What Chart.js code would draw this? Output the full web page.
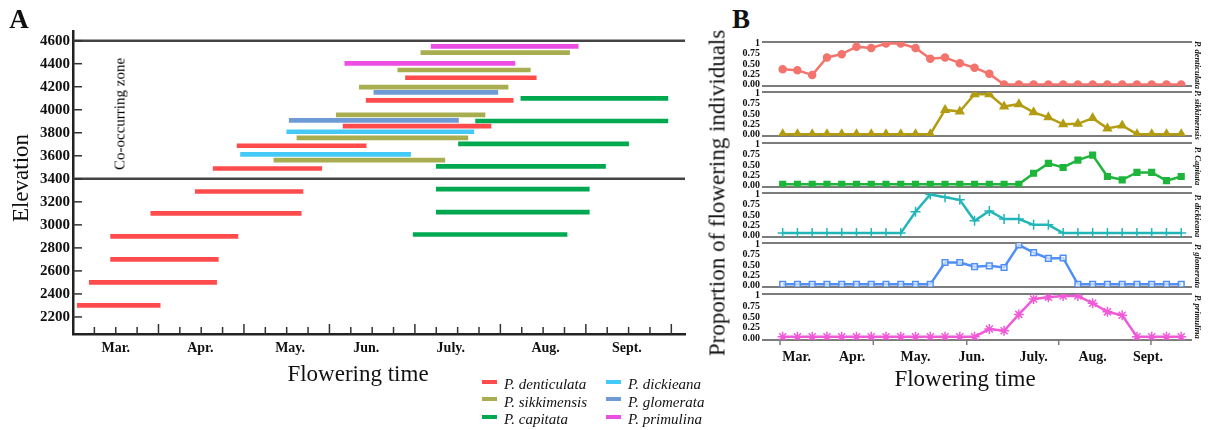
<!DOCTYPE html>
<html>
<head>
<meta charset="utf-8">
<title>Flowering time and elevation</title>
<script src="https://cdn.jsdelivr.net/npm/chart.js"></script>
<style>
  body { margin: 0; background: #fff; }
  #wrap { position: relative; width: 1209px; height: 430px; overflow: hidden;
          font-family: 'Liberation Serif', 'Times New Roman', serif; color: #111; }
  canvas { position: absolute; }
  .txt { position: absolute; white-space: nowrap; line-height: 1; }
  .c { transform: translate(-50%, -50%); }
  .up { transform: translate(-50%, -50%) rotate(-90deg); }
  .down { transform: translate(-50%, -50%) rotate(90deg); }
  .sw { position: absolute; width: 15px; height: 4px; }
  .lg { position: absolute; font-style: italic; font-size: 15px; line-height: 1; white-space: nowrap; }
</style>
</head>
<body>
<div id="wrap">
  <canvas id="chartA" width="700" height="430" style="left:0;top:0"></canvas>
</div>
<script>
// ── Data ─────────────────────────────────────────────────────────
// Panel A: [elevation m, first month, last month]  (3 = 1 Mar, 4 = 1 Apr ...)
const denticulataBars = [[4278, 6.89, 8.42], [4082, 6.43, 8.15], [3858, 6.16, 7.89], [3687, 4.92, 6.43],
  [3490, 4.64, 5.91], [3290, 4.43, 5.69], [3100, 3.91, 5.67], [2900, 3.44, 4.93], [2700, 3.44, 4.70],
  [2500, 3.19, 4.68], [2300, 3.05, 4.02]];
const sikkimensisBars = [[4496, 7.07, 8.81], [4345, 6.80, 8.35], [4197, 6.35, 8.09], [3956, 6.08, 7.82],
  [3756, 5.62, 7.62], [3563, 5.35, 7.35]];
const capitataBars = [[4099, 8.24, 9.96], [3902, 7.71, 9.96], [3704, 7.51, 9.50], [3508, 7.25, 9.23],
  [3310, 7.25, 9.04], [3110, 7.25, 9.04], [2916, 6.98, 8.78]];
const dickieanaBars = [[3809, 5.50, 7.69], [3612, 4.96, 6.95]];
const glomerataBars = [[4151, 6.52, 7.97], [3908, 5.53, 7.51]];
const primulinaBars = [[4551, 7.19, 8.91], [4403, 6.18, 8.17]];
const zoneBounds = [3400, 4600];
const elevTicks = [2200, 2400, 2600, 2800, 3000, 3200, 3400, 3600, 3800, 4000, 4200, 4400, 4600];
const monthNames = ['Mar.', 'Apr.', 'May.', 'Jun.', 'July.', 'Aug.', 'Sept.'];
const monthPosA = [3.5, 4.49, 5.54, 6.43, 7.42, 8.53, 9.48];

// Panel B: proportion of flowering individuals per sampling period
const periodIdx = [0, 1, 2, 3, 4, 5, 6, 7, 8, 9, 10, 11, 12, 13, 14, 15, 16, 17, 18, 19, 20, 21, 22, 23, 24, 25, 26, 27];
const denticulataProp = [0.37, 0.35, 0.23, 0.66, 0.74, 0.92, 0.89, 1.0, 1.0, 0.89, 0.63, 0.66, 0.52, 0.41,
  0.26, 0, 0, 0, 0, 0, 0, 0, 0, 0, 0, 0, 0, 0];
const sikkimensisProp = [0.01, 0.01, 0.01, 0.01, 0.01, 0.01, 0.01, 0.01, 0.01, 0.01, 0.01, 0.60, 0.56, 0.98,
  0.98, 0.68, 0.74, 0.54, 0.42, 0.25, 0.26, 0.40, 0.15, 0.22, 0.01, 0.01, 0.01, 0.01];
const capitataProp = [0.03, 0.03, 0.03, 0.03, 0.03, 0.03, 0.03, 0.03, 0.03, 0.03, 0.03, 0.03, 0.03, 0.03,
  0.03, 0.03, 0.03, 0.30, 0.54, 0.44, 0.62, 0.74, 0.22, 0.14, 0.32, 0.32, 0.12, 0.22];
const dickieanaProp = [0.06, 0.06, 0.06, 0.06, 0.06, 0.06, 0.06, 0.06, 0.06, 0.58, 1.0, 0.93, 0.87, 0.36,
  0.60, 0.40, 0.40, 0.26, 0.26, 0.06, 0.06, 0.06, 0.06, 0.06, 0.06, 0.06, 0.06, 0.06];
const glomerataProp = [0.03, 0.03, 0.03, 0.03, 0.03, 0.03, 0.03, 0.03, 0.03, 0.03, 0.03, 0.56, 0.56, 0.46,
  0.48, 0.44, 0.99, 0.80, 0.66, 0.67, 0.03, 0.03, 0.03, 0.03, 0.03, 0.03, 0.03, 0.03];
const primulinaProp = [0.04, 0.04, 0.04, 0.04, 0.04, 0.04, 0.04, 0.04, 0.04, 0.04, 0.04, 0.04, 0.04, 0.04,
  0.22, 0.18, 0.56, 0.92, 0.96, 0.99, 0.99, 0.82, 0.62, 0.54, 0.04, 0.04, 0.04, 0.04];
const propTicks = [0, 0.25, 0.5, 0.75, 1];
const monthPosB = [0.95, 4.7, 9, 12.8, 17, 21, 24.75];
const tickPosB = [-0.18, 6.14, 12.47, 18.7, 24.95];

const SERIF = "'Liberation Serif', 'Times New Roman', serif";
const wrap = document.getElementById('wrap');

const addText = (txt, x, y, cls, style) => {
  const d = document.createElement('div');
  d.className = 'txt ' + cls;
  d.textContent = txt;
  d.style.left = x + 'px';
  d.style.top = y + 'px';
  d.style.cssText += style;
  wrap.appendChild(d);
};

// ── Panel A ──────────────────────────────────────────────────────
const speciesA = [
  { name: 'P. denticulata', bars: denticulataBars, color: '#ff4b4b' },
  { name: 'P. sikkimensis', bars: sikkimensisBars, color: '#a8ae50' },
  { name: 'P. capitata', bars: capitataBars, color: '#00a84f' },
  { name: 'P. dickieana', bars: dickieanaBars, color: '#45caf8' },
  { name: 'P. glomerata', bars: glomerataBars, color: '#6e9bd6' },
  { name: 'P. primulina', bars: primulinaBars, color: '#ec4ee4' },
];

const frameA = {
  id: 'frameA',
  beforeDatasetsDraw(chart) {
    const { ctx, chartArea: a, scales: { y } } = chart;
    ctx.save();
    ctx.strokeStyle = '#444';
    ctx.lineWidth = 2.5;
    zoneBounds.forEach(v => {
      const py = y.getPixelForValue(v);
      ctx.beginPath(); ctx.moveTo(a.left, py); ctx.lineTo(a.right, py); ctx.stroke();
    });
    ctx.restore();
  },
  afterDraw(chart) {
    const { ctx, chartArea: a, scales: { x, y } } = chart;
    ctx.save();
    ctx.strokeStyle = '#333';
    ctx.lineWidth = 1.5;
    for (let m = 3.25; m <= 10.01; m += 0.25) {
      const px = x.getPixelForValue(m);
      const len = Math.abs(m - Math.round(m)) < 0.01 ? 10 : 7;
      ctx.beginPath(); ctx.moveTo(px, a.bottom); ctx.lineTo(px, a.bottom - len); ctx.stroke();
    }
    elevTicks.forEach(v => {
      const py = y.getPixelForValue(v);
      ctx.beginPath(); ctx.moveTo(a.left, py); ctx.lineTo(a.left + 9, py); ctx.stroke();
    });
    ctx.restore();
  }
};

new Chart(document.getElementById('chartA'), {
  type: 'bar',
  data: {
    datasets: speciesA.map(s => ({
      label: s.name,
      data: s.bars.map(b => ({ y: b[0], x: [b[1], b[2]] })),
      backgroundColor: s.color,
      borderWidth: 0,
      barThickness: 4,
      grouped: false,
    }))
  },
  options: {
    indexAxis: 'y',
    responsive: false,
    animation: false,
    layout: { padding: { top: 31, right: 15, left: 0, bottom: 0 } },
    plugins: { legend: { display: false }, tooltip: { enabled: false } },
    scales: {
      x: {
        type: 'linear', min: 3, max: 10.16,
        grid: { display: false, drawTicks: false },
        border: { color: '#222', width: 2.5 },
        afterBuildTicks: s => { s.ticks = monthPosA.map(v => ({ value: v })); },
        ticks: { autoSkip: false, maxRotation: 0, padding: 6, color: '#111',
                 font: { family: SERIF, size: 14, weight: 'bold' },
                 callback: (v, i) => monthNames[i] },
        afterFit: s => { s.height = 96; }
      },
      y: {
        type: 'linear', min: 2052, max: 4684, offset: false,
        grid: { display: false, drawTicks: false, offset: false },
        border: { color: '#222', width: 2.5 },
        afterBuildTicks: s => { s.ticks = elevTicks.map(v => ({ value: v })); },
        ticks: { autoSkip: false, padding: 3, color: '#111', font: { family: SERIF, size: 15, weight: 'bold' },
                 callback: v => String(v) },
        afterFit: s => { s.width = 73; }
      }
    }
  },
  plugins: [frameA]
});

addText('A', 19, 19, 'c', 'font-weight:bold;font-size:27px;');
addText('Elevation', 20, 178, 'up', 'font-size:23px;');
addText('Flowering time', 358, 373, 'c', 'font-size:23px;');
addText('Co-occurring zone', 119.5, 114, 'up', 'font-size:15px;color:#000;');

// legend
speciesA.forEach((s, i) => {
  const col = Math.floor(i / 3), row = i % 3;
  const sx = col ? 606 : 482, tx = col ? 628 : 504;
  const sw = document.createElement('div');
  sw.className = 'sw';
  sw.style.left = sx + 'px';
  sw.style.top = (379.5 + row * 17.7) + 'px';
  sw.style.background = s.color;
  wrap.appendChild(sw);
  const lg = document.createElement('div');
  lg.className = 'lg';
  lg.textContent = s.name;
  lg.style.left = tx + 'px';
  lg.style.top = (377 + row * 17.7) + 'px';
  wrap.appendChild(lg);
});

// ── Panel B ──────────────────────────────────────────────────────
const panelsB = [
  { name: 'P. denticulata', data: denticulataProp, color: '#f4736d', fill: '#f4736d', style: 'circle', r: 3.5 },
  { name: 'P. sikkimensis', data: sikkimensisProp, color: '#b39c12', fill: '#b39c12', style: 'triangle', r: 4.5 },
  { name: 'P. Capitata', data: capitataProp, color: '#1fb53c', fill: '#1fb53c', style: 'rect', r: 4 },
  { name: 'P. dickieana', data: dickieanaProp, color: '#22b6b8', fill: '#22b6b8', style: 'cross', r: 5 },
  { name: 'P. glomerata', data: glomerataProp, color: '#4f8ef4', fill: 'rgba(255,255,255,0.6)', style: 'rect', r: 4 },
  { name: 'P. primulina', data: primulinaProp, color: '#f05ad8', fill: '#f05ad8', style: 'star', r: 5 },
];

const frameB = {
  id: 'frameB',
  beforeDatasetsDraw(chart) {
    const { ctx, chartArea: a, scales: { x } } = chart;
    ctx.save();
    ctx.strokeStyle = '#7c7c7c';
    ctx.lineWidth = 2;
    [a.top, a.bottom].forEach(py => {
      ctx.beginPath(); ctx.moveTo(a.left, py); ctx.lineTo(a.right, py); ctx.stroke();
    });
    if (chart.options.lastPanel) {
      ctx.lineWidth = 1.5;
      tickPosB.forEach(v => {
        const px = x.getPixelForValue(v);
        ctx.beginPath(); ctx.moveTo(px, a.bottom); ctx.lineTo(px, a.bottom + 5); ctx.stroke();
      });
    }
    ctx.restore();
  }
};

panelsB.forEach((p, i) => {
  const last = i === panelsB.length - 1;
  const areaTop = Math.round(42 + 50.3 * i);
  const cTop = areaTop - 8;
  const cH = last ? 430 - cTop : 60;
  const cv = document.createElement('canvas');
  cv.width = 509; cv.height = cH;
  cv.style.left = '700px'; cv.style.top = cTop + 'px';
  wrap.insertBefore(cv, wrap.children[1]);

  new Chart(cv, {
    type: 'line',
    data: {
      datasets: [{
        data: p.data.map((v, k) => ({ x: periodIdx[k], y: v })),
        borderColor: p.color,
        borderWidth: 2.5,
        pointStyle: p.style,
        pointRadius: p.r,
        pointBorderColor: p.color,
        pointBackgroundColor: p.fill,
        pointBorderWidth: 1.5,
        tension: 0,
      }]
    },
    options: {
      responsive: false,
      animation: false,
      lastPanel: last,
      layout: { padding: { top: 8, right: 17, left: 0, bottom: 0 } },
      plugins: { legend: { display: false }, tooltip: { enabled: false } },
      scales: {
        x: {
          type: 'linear', min: -1.4, max: 27.73,
          grid: { display: false, drawTicks: false },
          border: { display: false },
          afterBuildTicks: s => { s.ticks = monthPosB.map(v => ({ value: v })); },
          ticks: { display: last, autoSkip: false, maxRotation: 0, padding: 9, color: '#111',
                   font: { family: SERIF, size: 14, weight: 'bold' },
                   callback: (v, k) => monthNames[k] },
          afterFit: s => { s.height = cH - 8 - 46; }
        },
        y: {
          min: -0.035, max: 1.035,
          grid: { display: false, drawTicks: false },
          border: { display: false },
          afterBuildTicks: s => { s.ticks = propTicks.map(v => ({ value: v })); },
          ticks: { autoSkip: false, padding: 2, color: '#111', font: { family: SERIF, size: 10, weight: 'bold' },
                   callback: v => v === 1 ? '1' : v.toFixed(2) },
          afterFit: s => { s.width = 62; }
        }
      }
    },
    plugins: [frameB]
  });

  addText(p.name, 1198, areaTop + 23, 'down', 'font-size:8.6px;font-weight:bold;font-style:italic;');
});

addText('B', 741, 19, 'c', 'font-weight:bold;font-size:27px;');
addText('Proportion of flowering individuals', 717, 193, 'up', 'font-size:23px;');
addText('Flowering time', 965, 378, 'c', 'font-size:23px;');
</script>
</body>
</html>
